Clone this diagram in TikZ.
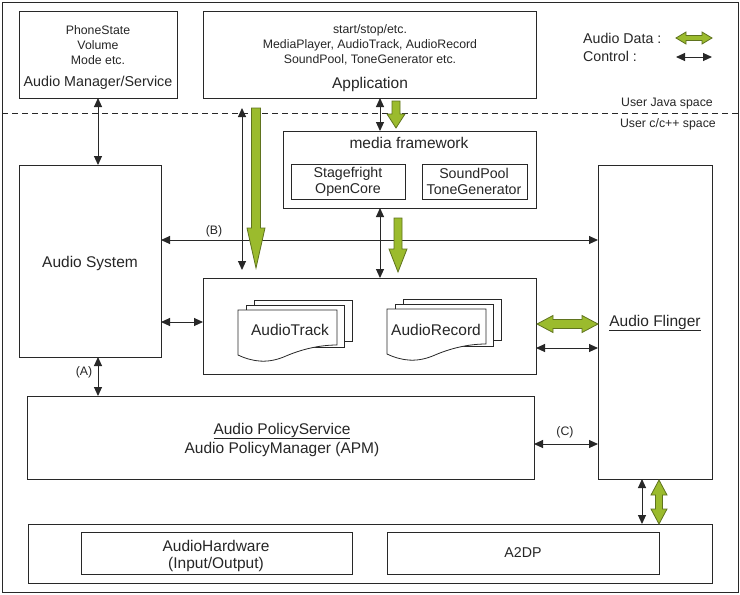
\documentclass[tikz,border=0pt]{standalone}
\usepackage{fontspec}
\setmainfont{Liberation Sans}
\usetikzlibrary{arrows.meta,calc}
\definecolor{gfill}{RGB}{155,187,45}
\definecolor{gline}{RGB}{95,115,30}
\definecolor{lnc}{RGB}{40,40,40}
\tikzset{
 box/.style={draw=lnc, line width=0.9pt, rectangle, inner sep=0pt, outer sep=0pt, anchor=north west},
 ctrl/.style={lnc, line width=1pt, {Triangle[length=9pt,width=8pt]}-{Triangle[length=9pt,width=8pt]}},
 garrow/.style={fill=gfill, draw=gline, line width=0.8pt, line join=miter},
 big/.style={font=\fontsize{15.5}{18}\selectfont},
 med/.style={font=\fontsize{14.2}{17}\selectfont},
 sml/.style={font=\fontsize{12.3}{14}\selectfont},
 lbl/.style={inner sep=0pt, text=black!85},
 docstack/.pic={
  \draw[lnc, line width=0.8pt, fill=white] (16,-10) rectangle (114,31);
  \draw[lnc, line width=0.8pt, fill=white] (8,-5) rectangle (106,37);
  \draw[lnc, line width=0.8pt, fill=white] (0,0) -- (99,0) -- (99,35)
     .. controls (80,35) and (62,40) .. (48,46)
     .. controls (30,54) and (15,52) .. (0,45) -- cycle;
 }
}
\newcommand{\gdown}[6]{\draw[garrow] (#1-#5,#2) -- (#1+#5,#2) -- (#1+#5,#3) -- (#1+#6,#3) -- (#1,#4) -- (#1-#6,#3) -- (#1-#5,#3) -- cycle;}
\newcommand{\ghdbl}[6]{\draw[garrow] (#2,#1) -- (#2+#4,#1-#6) -- (#2+#4,#1-#5) -- (#3-#4,#1-#5) -- (#3-#4,#1-#6) -- (#3,#1) -- (#3-#4,#1+#6) -- (#3-#4,#1+#5) -- (#2+#4,#1+#5) -- (#2+#4,#1+#6) -- cycle;}
\newcommand{\gvdbl}[6]{\draw[garrow] (#1,#2) -- (#1+#6,#2+#4) -- (#1+#5,#2+#4) -- (#1+#5,#3-#4) -- (#1+#6,#3-#4) -- (#1,#3) -- (#1-#6,#3-#4) -- (#1-#5,#3-#4) -- (#1-#5,#2+#4) -- (#1-#6,#2+#4) -- cycle;}
\begin{document}
\begin{tikzpicture}[x=1pt,y=-1pt]
\useasboundingbox (0,0) rectangle (740,595);
\fill[white] (0,0) rectangle (740,595);
% frame
\node[box, minimum width=736pt, minimum height=590pt] (frame) at (2,2) {};
% boxes
\node[box, minimum width=158pt, minimum height=87pt] (am) at (19,11) {};
\node[box, minimum width=333pt, minimum height=87pt] (app) at (203,11) {};
\node[box, minimum width=253pt, minimum height=77pt] (mf) at (283,131) {};
\node[box, minimum width=114pt, minimum height=35pt] (sf) at (291,164) {};
\node[box, minimum width=105pt, minimum height=35pt] (sp) at (422,164) {};
\node[box, minimum width=142pt, minimum height=192pt] (as) at (19,165) {};
\node[box, minimum width=333pt, minimum height=96pt] (at) at (203,278) {};
\node[box, minimum width=114pt, minimum height=314pt] (af) at (598,165) {};
\node[box, minimum width=507pt, minimum height=83pt] (aps) at (27,396) {};
\node[box, minimum width=684pt, minimum height=59pt] (hw) at (28,524) {};
\node[box, minimum width=271pt, minimum height=42pt] (ahw) at (81,532) {};
\node[box, minimum width=272pt, minimum height=42pt] (a2dp) at (387,532) {};
% dashed separator
\coordinate (dl) at (0,113);
\draw[lnc, line width=0.9pt, dash pattern=on 6pt off 4pt] (frame.west |- dl) -- (frame.east |- dl);
% texts
\node[lbl, sml] (t1) at (98,30) {PhoneState};
\node[lbl, sml] (t2) at (98,45) {Volume};
\node[lbl, sml] (t3) at (98,60) {Mode etc.};
\node[lbl, big, font=\fontsize{14.3}{17}\selectfont] (t4) at (98,83) {Audio Manager/Service};
\node[lbl, sml] (t5) at (370,30) {start/stop/etc.};
\node[lbl, sml] (t6) at (370,45) {MediaPlayer, AudioTrack, AudioRecord};
\node[lbl, sml] (t7) at (370,60) {SoundPool, ToneGenerator etc.};
\node[lbl, big] (t8) at (370,84) {Application};
\node[lbl, med] (l1) at (583,38) [anchor=west] {Audio Data :};
\node[lbl, med] (l2) at (583,56) [anchor=west] {Control :};
\node[lbl, sml, anchor=east] (uj) at (713,104) {User Java space};
\node[lbl, sml, anchor=east] (uc) at (716,124) {User c/c++ space};
\node[lbl, big] (t9) at (409,143) {media framework};
\node[lbl, med] (t10) at (348,174) {Stagefright};
\node[lbl, med] (t11) at (348,190) {OpenCore};
\node[lbl, med] (t12) at (474,173) {SoundPool};
\node[lbl, med] (t13) at (474,190) {ToneGenerator};
\node[lbl, big] (t14) at (90,263) {Audio System};
\node[lbl, big] (t15) at (655,323) {\underline{Audio Flinger}};
\node[lbl, big] (t16) at (282,431) {\underline{Audio PolicyService}};
\node[lbl, big] (t17) at (282,449) {Audio PolicyManager (APM)};
\node[lbl, big] (t18) at (216,546) {AudioHardware};
\node[lbl, big] (t19) at (216,564) {(Input/Output)};
\node[lbl, med] (t20) at (523,553) {A2DP};
\node[lbl, sml] (la) at (84,372) {(A)};
\node[lbl, sml] (lb) at (214,231) {(B)};
\node[lbl, sml] (lc) at (565,432) {(C)};
% document stacks
\pic at (238,310) {docstack};
\pic at (387,309) {docstack};
\node[lbl, big] (t21) at (290,330) {AudioTrack};
\node[lbl, big] (t22) at (436,330) {AudioRecord};
% control connectors
\draw[ctrl] (am.south) -- (am.south |- as.north);
\coordinate (a1) at (242,108);
\coordinate (a2) at (242,270);
\draw[ctrl] (a1) -- (a2);
\coordinate (xmf) at (380,0);
\draw[ctrl] (app.south -| xmf) -- (mf.north -| xmf);
\draw[ctrl] (mf.south -| xmf) -- (at.north -| xmf);
\coordinate (yb) at (0,240);
\draw[ctrl] (as.east |- yb) -- (af.west |- yb);
\coordinate (yat) at (0,322);
\draw[ctrl] (as.east |- yat) -- (at.west |- yat);
\coordinate (yaf) at (0,348);
\draw[ctrl] (at.east |- yaf) -- (af.west |- yaf);
\draw[ctrl] (am.south |- as.south) -- (am.south |- aps.north);
\coordinate (yc) at (0,444);
\draw[ctrl] (aps.east |- yc) -- (af.west |- yc);
\coordinate (xhw) at (642,0);
\draw[ctrl] (af.south -| xhw) -- (hw.north -| xhw);
\coordinate (lg1) at (676,57);
\coordinate (lg2) at (712,57);
\draw[ctrl] (lg1) -- (lg2);
% audio data arrows
\gdown{256}{108}{228}{268}{4.5}{9}
\gdown{396}{101}{114}{128}{4}{9}
\gdown{398}{218}{249}{272}{4}{9}
\ghdbl{324}{537}{598}{16}{4.5}{8.5}
\gvdbl{659}{480}{524}{15}{3.5}{8}
\ghdbl{38}{676}{712}{10}{2.5}{6}
\end{tikzpicture}
\end{document}
